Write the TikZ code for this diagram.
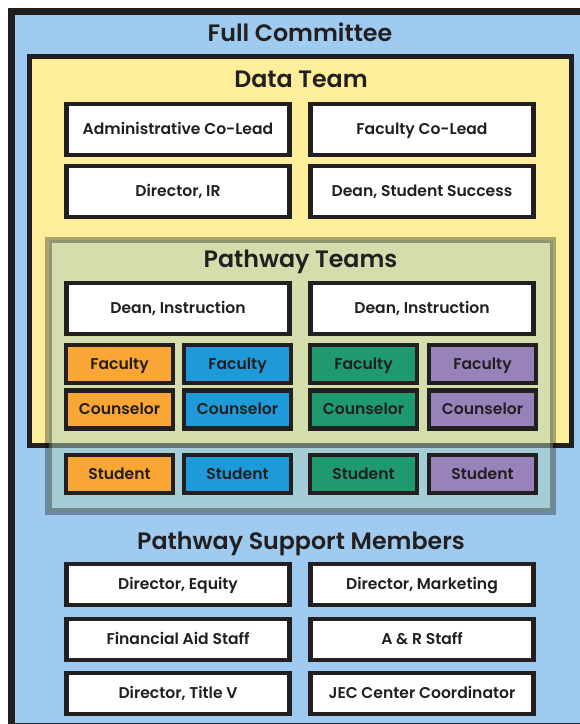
\documentclass[tikz,border=0pt]{standalone}
\usepackage{fontspec}
\setmainfont{Poppins}[BoldFont={Poppins SemiBold}]
\usepackage{xcolor}
\usepackage{tikz}

\definecolor{ink}{RGB}{35,31,32}
\definecolor{committeeblue}{RGB}{158,203,239}
\definecolor{datayellow}{RGB}{253,238,155}
\definecolor{pathgreen}{RGB}{172,208,189}
\definecolor{teamorange}{RGB}{250,166,52}
\definecolor{teamblue}{RGB}{30,154,216}
\definecolor{teamgreen}{RGB}{30,154,110}
\definecolor{teampurple}{RGB}{152,130,186}

\tikzset{
  member/.style={draw=ink, line width=3.4pt, fill=white, inner sep=0pt,
    minimum width=167.6pt, minimum height=38.2pt, text=ink,
    text height=8pt, text depth=0pt,
    font=\bfseries\fontsize{11.7}{13}\selectfont},
  seat/.style={member, minimum width=80pt, minimum height=28.2pt},
  heading/.style={anchor=base, text=ink, font=\bfseries\fontsize{17.8}{20}\selectfont}
}

\begin{document}
\begin{tikzpicture}[x=0.75pt, y=-0.75pt]
            \useasboundingbox (0,0) rectangle (580,724);
            \fill[white] (0,0) rectangle (580,724);

            % full committee frame
            \draw[fill=committeeblue, draw=ink, line width=5.25pt] (11.5,11.5) rectangle (600,726);
            \node[heading] (full) at (300,42) {Full Committee};

            % data team
            \draw[fill=datayellow, draw=ink, line width=3.75pt] (29.5,56.5) rectangle (571,445);
            \node[heading] (data) at (301,88) {Data Team};

            \node[member] (adminlead) at (178,129.5) {Administrative Co-Lead};
            \node[member] (facultylead) at (422,129.5) {Faculty Co-Lead};
            \node[member] (directorir) at (178,191.5) {Director, IR};
            \node[member] (deansuccess) at (422,191.5) {Dean, Student Success};

            % pathway teams (see-through layer)
            \draw[fill=pathgreen, fill opacity=0.5, draw=black, draw opacity=0.32, line width=4.8pt]
                (48.5,240) rectangle (553,511.5);
            \node[heading] (pathway) at (300.5,267) {Pathway Teams};

            \node[member] (deanleft) at (178,308.5) {Dean, Instruction};
            \node[member] (deanright) at (422,308.5) {Dean, Instruction};

            \node[seat, fill=teamorange] (facultyA) at (119.5,364) {Faculty};
            \node[seat, fill=teamblue] (facultyB) at (237.5,364) {Faculty};
            \node[seat, fill=teamgreen] (facultyC) at (363.5,364) {Faculty};
            \node[seat, fill=teampurple] (facultyD) at (482.5,364) {Faculty};

            \node[seat, fill=teamorange] (counselorA) at (119.5,409.5) {Counselor};
            \node[seat, fill=teamblue] (counselorB) at (237.5,409.5) {Counselor};
            \node[seat, fill=teamgreen] (counselorC) at (363.5,409.5) {Counselor};
            \node[seat, fill=teampurple] (counselorD) at (482.5,409.5) {Counselor};

            \node[seat, fill=teamorange] (studentA) at (119.5,474) {Student};
            \node[seat, fill=teamblue] (studentB) at (237.5,474) {Student};
            \node[seat, fill=teamgreen] (studentC) at (363.5,474) {Student};
            \node[seat, fill=teampurple] (studentD) at (482.5,474) {Student};

            % support members
            \node[heading] (support) at (301,549) {Pathway Support Members};

            \node[member, minimum height=30.5pt] (equity) at (178,584.5) {Director, Equity};
            \node[member, minimum height=30.5pt] (marketing) at (422,584.5) {Director, Marketing};
            \node[member, minimum height=30.5pt] (finaid) at (178,639.5) {Financial Aid Staff};
            \node[member, minimum height=30.5pt] (arstaff) at (422,639.5) {A \& R Staff};
            \node[member, minimum height=30.5pt] (titlev) at (178,693.5) {Director, Title V};
            \node[member, minimum height=30.5pt] (jec) at (422,693.5) {JEC Center Coordinator};
        \end{tikzpicture}
\end{document}
